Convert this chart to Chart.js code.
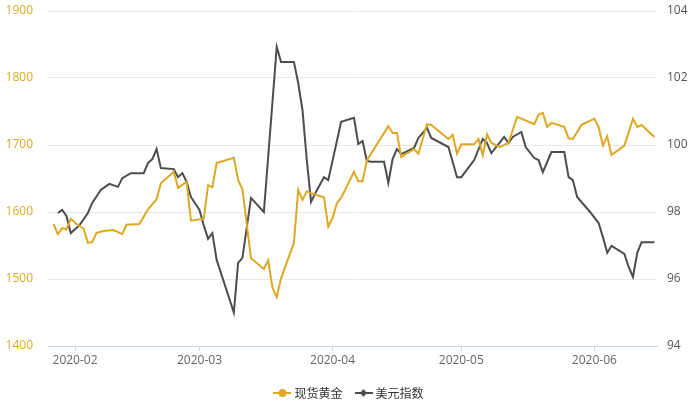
<!DOCTYPE html>
<html>
<head>
<meta charset="utf-8">
<script src="https://cdn.jsdelivr.net/npm/chart.js@4"></script>
<style>
  html, body { margin: 0; padding: 0; background: #fff; }
  #wrap { width: 700px; height: 400px; }
</style>
</head>
<body>
<div id="wrap"><canvas id="goldChart"></canvas></div>
<script>
// spot gold (USD/oz)
const goldDates = ['2020-01-27','2020-01-28','2020-01-29','2020-01-30','2020-01-31','2020-02-01','2020-02-03','2020-02-04','2020-02-05','2020-02-06',
  '2020-02-08','2020-02-10','2020-02-12','2020-02-13','2020-02-16','2020-02-18','2020-02-20','2020-02-21','2020-02-24','2020-02-25',
  '2020-02-27','2020-02-28','2020-03-02','2020-03-03','2020-03-04','2020-03-05','2020-03-09','2020-03-10','2020-03-11','2020-03-13',
  '2020-03-16','2020-03-17','2020-03-18','2020-03-19','2020-03-20','2020-03-23','2020-03-24','2020-03-25','2020-03-26','2020-03-27',
  '2020-03-30','2020-03-31','2020-04-01','2020-04-02','2020-04-03','2020-04-06','2020-04-07','2020-04-08','2020-04-09','2020-04-14',
  '2020-04-15','2020-04-16','2020-04-17','2020-04-20','2020-04-21','2020-04-23','2020-04-24','2020-04-28','2020-04-29','2020-04-30',
  '2020-05-01','2020-05-04','2020-05-05','2020-05-06','2020-05-07','2020-05-08','2020-05-10','2020-05-12','2020-05-14','2020-05-18',
  '2020-05-19','2020-05-20','2020-05-21','2020-05-22','2020-05-25','2020-05-26','2020-05-27','2020-05-29','2020-06-01','2020-06-02',
  '2020-06-03','2020-06-04','2020-06-05','2020-06-08','2020-06-10','2020-06-11','2020-06-12','2020-06-15'];
const goldValues = [1582,1567,1576,1574,1590,1584,1575,1554,1555,1569,
  1572,1573,1567,1581,1582,1604,1619,1643,1660,1636,
  1645,1587,1590,1640,1637,1673,1681,1648,1634,1531,
  1515,1528,1487,1473,1501,1554,1633,1618,1631,1628,
  1622,1578,1591,1613,1621,1660,1646,1646,1677,1728,
  1718,1718,1682,1694,1687,1731,1730,1709,1715,1687,
  1701,1701,1709,1685,1716,1703,1697,1703,1742,1731,
  1745,1748,1727,1733,1727,1710,1709,1730,1739,1727,
  1699,1713,1685,1699,1739,1727,1730,1712];

// US dollar index
const usdDates = ['2020-01-28','2020-01-29','2020-01-30','2020-01-31','2020-02-02','2020-02-04','2020-02-05','2020-02-07','2020-02-09','2020-02-11',
  '2020-02-12','2020-02-14','2020-02-17','2020-02-18','2020-02-19','2020-02-20','2020-02-21','2020-02-24','2020-02-25','2020-02-26',
  '2020-02-27','2020-02-28','2020-03-01','2020-03-02','2020-03-03','2020-03-04','2020-03-05','2020-03-09','2020-03-10','2020-03-11',
  '2020-03-13','2020-03-16','2020-03-19','2020-03-20','2020-03-23','2020-03-24','2020-03-25','2020-03-26','2020-03-27','2020-03-28',
  '2020-03-30','2020-03-31','2020-04-03','2020-04-06','2020-04-07','2020-04-08','2020-04-09','2020-04-10','2020-04-13','2020-04-14',
  '2020-04-15','2020-04-16','2020-04-17','2020-04-20','2020-04-21','2020-04-23','2020-04-24','2020-04-28','2020-04-30','2020-05-01',
  '2020-05-04','2020-05-06','2020-05-07','2020-05-08','2020-05-11','2020-05-12','2020-05-13','2020-05-15','2020-05-16','2020-05-18',
  '2020-05-19','2020-05-20','2020-05-22','2020-05-25','2020-05-26','2020-05-27','2020-05-28','2020-05-31','2020-06-02','2020-06-03',
  '2020-06-04','2020-06-05','2020-06-08','2020-06-09','2020-06-10','2020-06-11','2020-06-12','2020-06-15'];
const usdValues = [97.97,98.06,97.88,97.37,97.6,97.97,98.27,98.66,98.84,98.75,
  99.01,99.16,99.16,99.46,99.58,99.88,99.31,99.28,99.04,99.16,
  98.9,98.45,98.06,97.6,97.2,97.37,96.57,95.0,96.48,96.63,
  98.42,98.0,102.93,102.48,102.48,101.85,101.04,99.55,98.3,98.57,
  99.04,98.95,100.69,100.81,100.03,100.12,99.52,99.5,99.5,98.87,
  99.58,99.88,99.73,99.91,100.21,100.51,100.21,99.94,99.04,99.04,
  99.55,100.18,100.06,99.76,100.24,100.06,100.24,100.39,99.94,99.61,
  99.55,99.19,99.79,99.79,99.04,98.95,98.45,98.0,97.67,97.25,
  96.78,96.99,96.75,96.36,96.06,96.78,97.1,97.1];

const monthTicks = ['2020-02-01','2020-03-01','2020-04-01','2020-05-01','2020-06-01'];
const goldTicks = [1400, 1500, 1600, 1700, 1800, 1900];
const usdTicks = [94, 96, 98, 100, 102, 104];

const goldColor = '#dfa824';
const usdColor = '#4d4d4d';

// day of year, so the x axis is a plain linear scale
function dayOf(s) {
  const p = s.split('-').map(Number);
  return (Date.UTC(p[0], p[1] - 1, p[2]) - Date.UTC(2020, 0, 1)) / 86400000 + 1;
}
const tickDays = monthTicks.map(dayOf);

function legendIcon(color, shape) {
  const c = document.createElement('canvas');
  c.width = 18; c.height = 10;
  const g = c.getContext('2d');
  g.strokeStyle = color; g.fillStyle = color; g.lineWidth = 2;
  g.beginPath(); g.moveTo(0, 5); g.lineTo(18, 5); g.stroke();
  g.beginPath();
  if (shape === 'circle') {
    g.arc(9, 5, 4, 0, Math.PI * 2);
  } else {
    g.moveTo(9, 1); g.lineTo(12.5, 5); g.lineTo(9, 9); g.lineTo(5.5, 5); g.closePath();
  }
  g.fill();
  return c;
}

const data = {
  datasets: [{
    label: '现货黄金',
    data: goldDates.map((d, i) => ({ x: dayOf(d), y: goldValues[i] })),
    borderColor: goldColor,
    backgroundColor: goldColor,
    borderWidth: 2,
    pointRadius: 0,
    pointStyle: legendIcon(goldColor, 'circle'),
    tension: 0,
    yAxisID: 'yGold'
  }, {
    label: '美元指数',
    data: usdDates.map((d, i) => ({ x: dayOf(d), y: usdValues[i] })),
    borderColor: usdColor,
    backgroundColor: usdColor,
    borderWidth: 2,
    pointRadius: 0,
    pointStyle: legendIcon(usdColor, 'diamond'),
    tension: 0,
    yAxisID: 'yUsd'
  }]
};

const tickFont = { family: 'Open Sans', size: 12 };

// keep the tick padding from pushing the plot down
function fitY(width) {
  return axis => { axis.width = width; axis.paddingTop = 7; axis.paddingBottom = 7; };
}

const config = {
  type: 'line',
  data: data,
  options: {
    responsive: true,
    maintainAspectRatio: false,
    animation: false,
    layout: { padding: { top: 11, bottom: -9, left: 0, right: 0 } },
    plugins: {
      legend: {
        position: 'bottom',
        labels: {
          usePointStyle: true,
          font: { family: 'Noto Sans CJK SC', size: 12 },
          color: '#333',
          padding: 15
        }
      },
      tooltip: { enabled: false }
    },
    scales: {
      x: {
        type: 'linear',
        min: 25.7,
        max: 167.6,
        afterBuildTicks: axis => { axis.ticks = tickDays.map(v => ({ value: v })); },
        afterFit: axis => { axis.height = 26; },
        ticks: {
          font: tickFont,
          color: '#666',
          padding: 2,
          maxRotation: 0,
          callback: v => monthTicks[tickDays.indexOf(v)].slice(0, 7)
        },
        grid: { drawOnChartArea: false, drawTicks: true, tickLength: 5, color: '#c6d6ec' },
        border: { color: '#c6d6ec' }
      },
      yGold: {
        position: 'left',
        min: 1400,
        max: 1900,
        afterBuildTicks: axis => { axis.ticks = goldTicks.map(v => ({ value: v })); },
        afterFit: fitY(48),
        ticks: { font: tickFont, color: goldColor, padding: 15, callback: v => String(v) },
        grid: { color: '#e9e9e9', drawTicks: false },
        border: { display: false }
      },
      yUsd: {
        position: 'right',
        min: 94,
        max: 104,
        afterBuildTicks: axis => { axis.ticks = usdTicks.map(v => ({ value: v })); },
        afterFit: fitY(43),
        ticks: { font: tickFont, color: '#555', padding: 10, callback: v => String(v) },
        grid: { drawOnChartArea: false, drawTicks: false },
        border: { display: false }
      }
    }
  }
};

const goldChart = new Chart(document.getElementById('goldChart'), config);
</script>
</body>
</html>
